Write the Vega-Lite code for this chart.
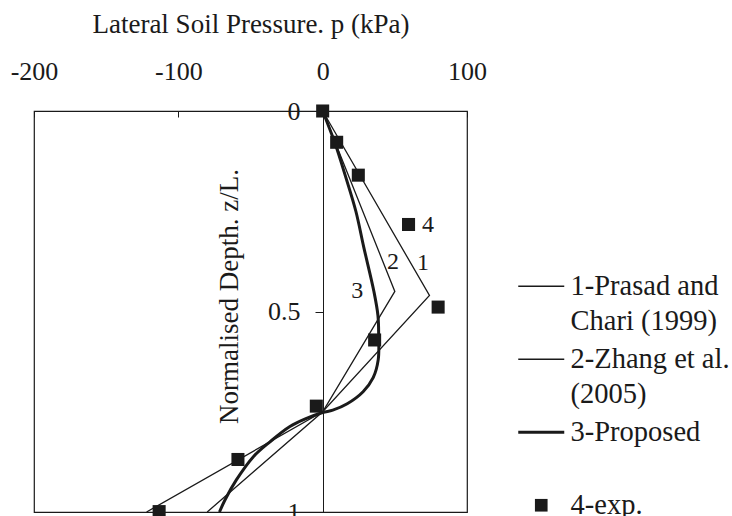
{
  "$schema": "https://vega.github.io/schema/vega-lite/v6.json",
  "width": 433,
  "height": 401,
  "autosize": {"type": "none"},
  "padding": {"left": 34, "top": 111, "right": 265, "bottom": 4},
  "background": "#ffffff",
  "config": {
    "font": "Liberation Serif",
    "view": {"stroke": "#1a1a1a", "strokeWidth": 1.2},
    "axis": {"grid": false, "labelFont": "Liberation Serif", "titleFont": "Liberation Serif", "labelColor": "#1a1a1a", "titleColor": "#1a1a1a", "titleFontWeight": "normal", "domainColor": "#1a1a1a", "tickColor": "#1a1a1a", "labelFontSize": 26, "titleFontSize": 27},
    "legend": {"orient": "none", "legendX": 493, "legendY": 161}
  },
  "datasets": {
    "lines": [
      {"s": "1", "p": 0, "d": 0}, {"s": "1", "p": 74, "d": 0.46}, {"s": "1", "p": 0, "d": 0.75}, {"s": "1", "p": -122, "d": 1.0},
      {"s": "2", "p": 0, "d": 0}, {"s": "2", "p": 50, "d": 0.45}, {"s": "2", "p": 0, "d": 0.75}, {"s": "2", "p": -80, "d": 1.0},
      {"s": "3", "p": 0, "d": 0}, {"s": "3", "p": 8.5, "d": 0.08}, {"s": "3", "p": 16, "d": 0.165}, {"s": "3", "p": 23, "d": 0.25},
      {"s": "3", "p": 28.5, "d": 0.34}, {"s": "3", "p": 35.5, "d": 0.45}, {"s": "3", "p": 38.3, "d": 0.51}, {"s": "3", "p": 38.8, "d": 0.56},
      {"s": "3", "p": 38.5, "d": 0.62}, {"s": "3", "p": 35, "d": 0.665}, {"s": "3", "p": 28, "d": 0.7}, {"s": "3", "p": 17, "d": 0.73},
      {"s": "3", "p": 7, "d": 0.746}, {"s": "3", "p": 0, "d": 0.752}, {"s": "3", "p": -12, "d": 0.768}, {"s": "3", "p": -22.7, "d": 0.787},
      {"s": "3", "p": -36.5, "d": 0.825}, {"s": "3", "p": -48, "d": 0.862}, {"s": "3", "p": -59.8, "d": 0.92}, {"s": "3", "p": -67.7, "d": 0.97},
      {"s": "3", "p": -71.5, "d": 1.0}
    ],
    "exp": [
      {"s": "4", "p": 0, "d": 0}, {"s": "4", "p": 9.7, "d": 0.078}, {"s": "4", "p": 24.7, "d": 0.16}, {"s": "4", "p": 59.5, "d": 0.283},
      {"s": "4", "p": 80, "d": 0.489}, {"s": "4", "p": 36, "d": 0.571}, {"s": "4", "p": -4.4, "d": 0.736}, {"s": "4", "p": -58.7, "d": 0.869},
      {"s": "4", "p": -113.3, "d": 0.999}
    ],
    "notes": [
      {"t": "4", "p": 73, "d": 0.285}, {"t": "1", "p": 69.5, "d": 0.38}, {"t": "2", "p": 48.7, "d": 0.376}, {"t": "3", "p": 24, "d": 0.448}
    ]
  },
  "encoding": {
    "x": {"field": "p", "type": "quantitative", "scale": {"domain": [-200, 100], "nice": false, "zero": false},
      "axis": {"orient": "top", "values": [-200, -100, 0, 100], "labelExpr": "'' + datum.value", "domain": false, "tickSize": -6, "labelPadding": 33, "labelFlush": false, "title": "Lateral Soil Pressure. p (kPa)", "titlePadding": 20}},
    "y": {"field": "d", "type": "quantitative", "scale": {"domain": [0, 1], "reverse": true, "nice": false, "zero": false},
      "axis": {"orient": "left", "offset": -289, "values": [0, 0.5, 1], "format": "~g", "tickSize": 8, "labelPadding": 15, "title": "Normalised Depth. z/L.", "titlePadding": 24, "titleY": 185}}
  },
  "layer": [
    {
      "data": {"name": "lines"},
      "transform": [{"filter": {"field": "s", "oneOf": ["1", "2"]}}],
      "mark": {"type": "line", "strokeWidth": 1.3, "interpolate": "linear"},
      "encoding": {
        "order": {"field": "d", "type": "quantitative"},
        "color": {"field": "s", "type": "nominal", "scale": {"domain": ["1", "2", "3", "4"], "range": ["#1a1a1a", "#1a1a1a", "#1a1a1a", "#1a1a1a"]},
          "legend": {"title": null, "labelExpr": "datum.value == '1' ? ['1-Prasad and', 'Chari (1999)'] : datum.value == '2' ? ['2-Zhang et al.', '(2005)'] : datum.value == '3' ? ['3-Proposed', ''] : ['4-exp.', '']",
            "symbolSize": 2116, "symbolType": "stroke", "labelFont": "Liberation Serif", "labelFontSize": 28.5, "labelColor": "#1a1a1a", "labelLimit": 400, "labelOffset": 15, "rowPadding": 9, "padding": 0,
            "encode": {
              "symbols": {"update": {"shape": {"signal": "datum.value == '4' ? 'square' : 'stroke'"}, "size": {"signal": "datum.value == '4' ? 160 : 2116"}, "strokeWidth": {"signal": "datum.value == '3' ? 3.2 : (datum.value == '4' ? 0 : 1.4)"}, "fill": {"value": "#1a1a1a"}, "stroke": {"value": "#1a1a1a"}, "opacity": {"value": 1}}},
              "labels": {"update": {"lineHeight": {"value": 35}}}
            }}}
      }
    },
    {
      "data": {"name": "lines"},
      "transform": [{"filter": {"field": "s", "equal": "3"}}],
      "mark": {"type": "line", "strokeWidth": 3, "interpolate": "catmull-rom"},
      "encoding": {
        "order": {"field": "d", "type": "quantitative"},
        "color": {"field": "s", "type": "nominal", "scale": {"domain": ["1", "2", "3", "4"], "range": ["#1a1a1a", "#1a1a1a", "#1a1a1a", "#1a1a1a"]}}
      }
    },
    {
      "data": {"name": "exp"},
      "mark": {"type": "point", "shape": "square", "filled": true, "size": 170, "opacity": 1},
      "encoding": {
        "color": {"field": "s", "type": "nominal", "scale": {"domain": ["1", "2", "3", "4"], "range": ["#1a1a1a", "#1a1a1a", "#1a1a1a", "#1a1a1a"]}}
      }
    },
    {
      "data": {"name": "notes"},
      "mark": {"type": "text", "font": "Liberation Serif", "fontSize": 24, "color": "#1a1a1a", "align": "center", "baseline": "middle"},
      "encoding": {"text": {"field": "t", "type": "nominal"}}
    }
  ]
}
